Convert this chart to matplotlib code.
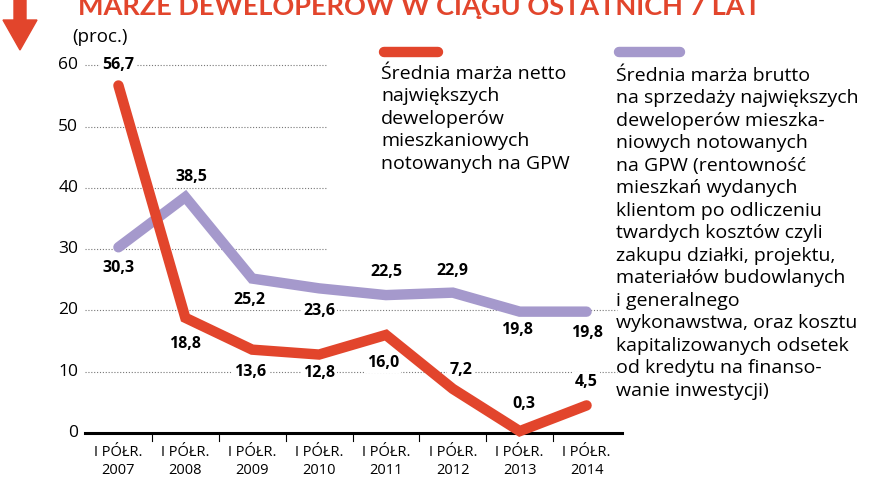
import matplotlib.pyplot as plt
from matplotlib.patches import Polygon

# data
periods = ['2007', '2008', '2009', '2010', '2011', '2012', '2013', '2014']
netto = [56.7, 18.8, 13.6, 12.8, 16.0, 7.2, 0.3, 4.5]
brutto = [30.3, 38.5, 25.2, 23.6, 22.5, 22.9, 19.8, 19.8]
yticks = [0, 10, 20, 30, 40, 50, 60]

# label offsets (pixels) for value labels
netto_off = [(0, 20), (0, -26), (-2, -22), (0, -18), (-3, -28), (8, 19), (4, 27), (0, 23)]
brutto_off = [(0, -21), (6, 20), (-3, -21), (0, -23), (0, 23), (0, 22), (-3, -18), (0, -21)]

RED = '#e2452c'
PURPLE = '#a599cc'
FONT = ['Open Sans', 'DejaVu Sans']

W, H = 880, 480
fig = plt.figure(figsize=(8.8, 4.8), dpi=100)
ax = fig.add_axes([85 / W, (H - 433) / H, (620 - 85) / W, (433 - 53) / H])
ax.set_xlim(-0.5, 7.5)
ax.set_ylim(0, 62)
for s in ax.spines.values():
    s.set_visible(False)
ax.set_xticks([])
ax.set_yticks([])

x = list(range(len(periods)))

# grid lines
for v in yticks[1:]:
    xend = 3.1 if v >= 30 else 7.45
    ax.plot([-0.5, xend], [v, v], ls=(0, (1, 1.6)), color='#777777', lw=0.8, zorder=1)
    ax.text(-0.6, v, str(v), ha='right', va='center', fontsize=12.5, family=FONT)
ax.text(-0.6, 0, '0', ha='right', va='center', fontsize=12.5, family=FONT)

# baseline and ticks
ax.plot([-0.5, 7.53], [0, 0], color='black', lw=2.2, clip_on=False, zorder=2)
for b in range(7):
    ax.plot([b + 0.5, b + 0.5], [0, -1.3], color='black', lw=0.8, clip_on=False)
for i, p in enumerate(periods):
    ax.text(i, -1.9, 'I PÓŁR.\n' + p, ha='center', va='top', fontsize=10.5,
            family=FONT, linespacing=1.3)

ax.plot(x, brutto, color=PURPLE, lw=7.5, solid_capstyle='round',
        solid_joinstyle='miter', clip_on=False, zorder=3)
ax.plot(x, netto, color=RED, lw=7.5, solid_capstyle='round',
        solid_joinstyle='miter', clip_on=False, zorder=4)

box = dict(boxstyle='square,pad=0.15', fc='white', ec='none')
for xi, v, off in zip(x, netto, netto_off):
    ax.annotate(f'{v:.1f}'.replace('.', ','), (xi, v), xytext=off,
                textcoords='offset pixels', ha='center', va='center',
                fontsize=11.5, fontweight='bold', family=FONT, zorder=2, bbox=box)
for xi, v, off in zip(x, brutto, brutto_off):
    ax.annotate(f'{v:.1f}'.replace('.', ','), (xi, v), xytext=off,
                textcoords='offset pixels', ha='center', va='center',
                fontsize=11.5, fontweight='bold', family=FONT, zorder=2, bbox=box)

# legend
fig.add_artist(plt.Line2D([384 / W, 438 / W], [(H - 52) / H] * 2, color=RED, lw=7.5,
                          solid_capstyle='round'))
fig.add_artist(plt.Line2D([619 / W, 680 / W], [(H - 52) / H] * 2, color=PURPLE, lw=7.5,
                          solid_capstyle='round'))
fig.text(381 / W, (H - 65) / H,
         'Średnia marża netto\nnajwiększych\ndeweloperów\nmieszkaniowych\nnotowanych na GPW',
         ha='left', va='top', fontsize=14, family=FONT, linespacing=1.32)
fig.text(616 / W, (H - 67) / H,
         'Średnia marża brutto\nna sprzedaży największych\ndeweloperów mieszka-\n'
         'niowych notowanych\nna GPW (rentowność\nmieszkań wydanych\n'
         'klientom po odliczeniu\ntwardych kosztów czyli\nzakupu działki, projektu,\n'
         'materiałów budowlanych\ni generalnego\nwykonawstwa, oraz kosztu\n'
         'kapitalizowanych odsetek\nod kredytu na finanso-\nwanie inwestycji)',
         ha='left', va='top', fontsize=14, family=FONT, linespacing=1.32)

# title, arrow, unit
fig.text(78 / W, (H - 15) / H, 'MARŻE DEWELOPERÓW W CIĄGU OSTATNICH 7 LAT',
         ha='left', va='baseline', fontsize=19.5, fontweight='bold', color=RED,
         family=['Lato', 'DejaVu Sans'])
fig.text(72 / W, (H - 37) / H, '(proc.)', ha='left', va='center', fontsize=13.5,
         family=FONT)
arrow = [(14, 0), (26, 0), (26, 20), (37, 20), (20, 50), (3, 20), (14, 20)]
fig.add_artist(Polygon([(px / W, (H - py) / H) for px, py in arrow],
                       closed=True, color=RED, transform=fig.transFigure))

fig.savefig('out.png', dpi=100)
